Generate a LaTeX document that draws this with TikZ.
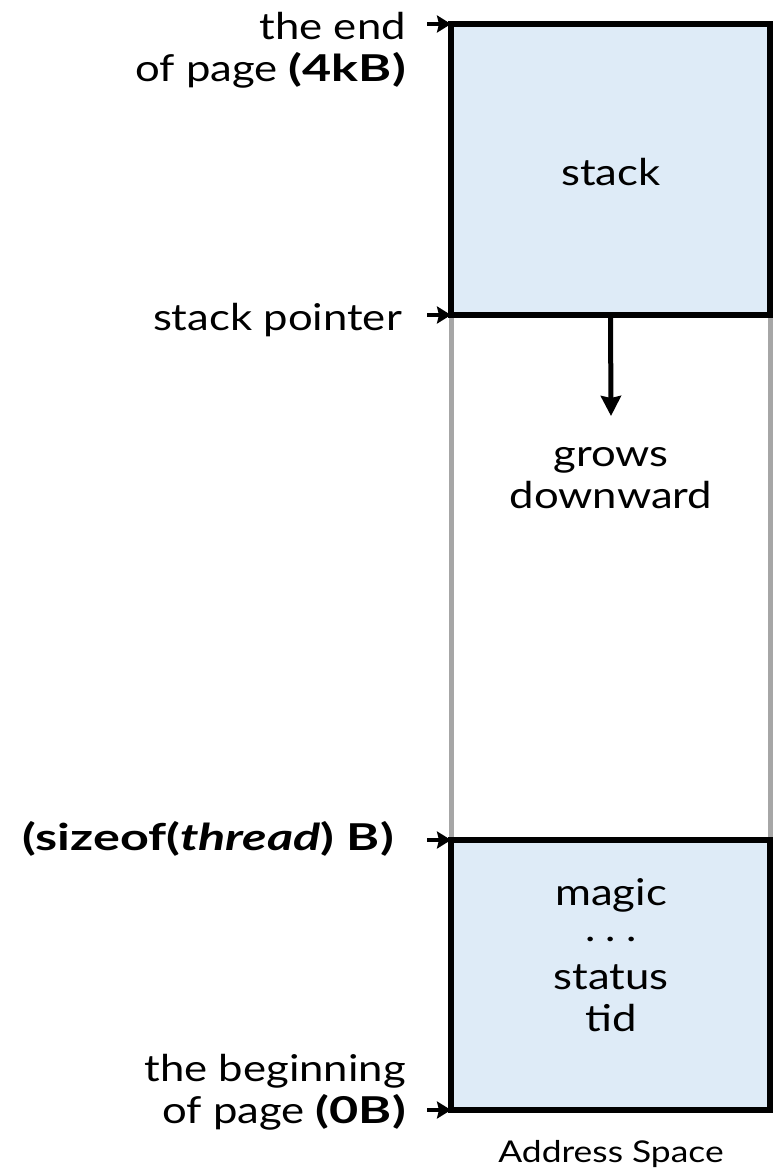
\documentclass[tikz,border=0pt]{standalone}
\usepackage{fontspec}
\setmainfont{Lato}[
  FakeStretch=1.18,
  BoldFeatures={FakeStretch=1.36},
  BoldItalicFeatures={FakeStretch=1.36}
]
\usetikzlibrary{arrows.meta}
\definecolor{cellfill}{HTML}{DEEBF7}
\definecolor{railgray}{HTML}{A6A6A6}
\tikzset{
  membox/.style={draw=black, line width=5.5pt, fill=cellfill, rectangle, outer sep=0pt, inner sep=0pt},
  addrlabel/.style={font=\fontsize{37}{42}\selectfont, align=right, anchor=east, inner sep=0pt},
  celltext/.style={font=\fontsize{37}{42}\selectfont, align=center, inner sep=0pt},
  ptrarrow/.style={line width=4.5pt, -{Stealth[length=14pt,width=17pt,inset=2pt]}},
  growarrow/.style={line width=5pt, -{Stealth[length=20pt,width=20pt,inset=2pt]}},
  rail/.style={draw=railgray, line width=5pt},
}
\begin{document}
\begin{tikzpicture}[x=1pt,y=-1pt]
\useasboundingbox (0,0) rectangle (782,1174);

% gray side rails of the free region
\coordinate (railTL) at (451,315);
\coordinate (railBL) at (451,840);
\coordinate (railTR) at (770,315);
\coordinate (railBR) at (770,840);
\draw[rail] (railTL) -- (railBL);
\draw[rail] (railTR) -- (railBR);

% stack region and thread struct region
\node[membox, minimum width=319pt, minimum height=291pt] (stk) at (610.5,169.5) {};
\node[membox, minimum width=319pt, minimum height=270pt] (thr) at (610.5,975) {};

\node[celltext] (stktxt) at (611,172) {stack};
\node[celltext] (growtxt) at (611,478) {grows\\downward};
\node[celltext] (fields) at (611,955) {magic\\\raisebox{6pt}{.\hspace{0.28em}.\hspace{0.28em}.}\\status\\tid};
\node[font=\fontsize{30}{34}\selectfont, inner sep=0pt] (aspace) at (611,1154) {Address Space};

% growth direction
\coordinate (growend) at (611,416);
\draw[growarrow] (stk.south) -- (growend);

% address labels on the left
\node[addrlabel] (lend) at (406,50) {the end\\of page \textbf{(4kB)}};
\node[addrlabel] (lsp) at (402,320) {stack pointer};
\node[addrlabel] (lsz) at (394,839) {\textbf{(sizeof(\textit{thread}) B)}};
\node[addrlabel] (lbeg) at (406,1092) {the beginning\\of page \textbf{(0B)}};

\coordinate (p1) at (427,24);
\coordinate (p2) at (427,315);
\coordinate (p3) at (427,840);
\coordinate (p4) at (427,1110);
\draw[ptrarrow] (p1) -- (stk.north west);
\draw[ptrarrow] (p2) -- (stk.south west);
\draw[ptrarrow] (p3) -- (thr.north west);
\draw[ptrarrow] (p4) -- (thr.south west);
\end{tikzpicture}
\end{document}
